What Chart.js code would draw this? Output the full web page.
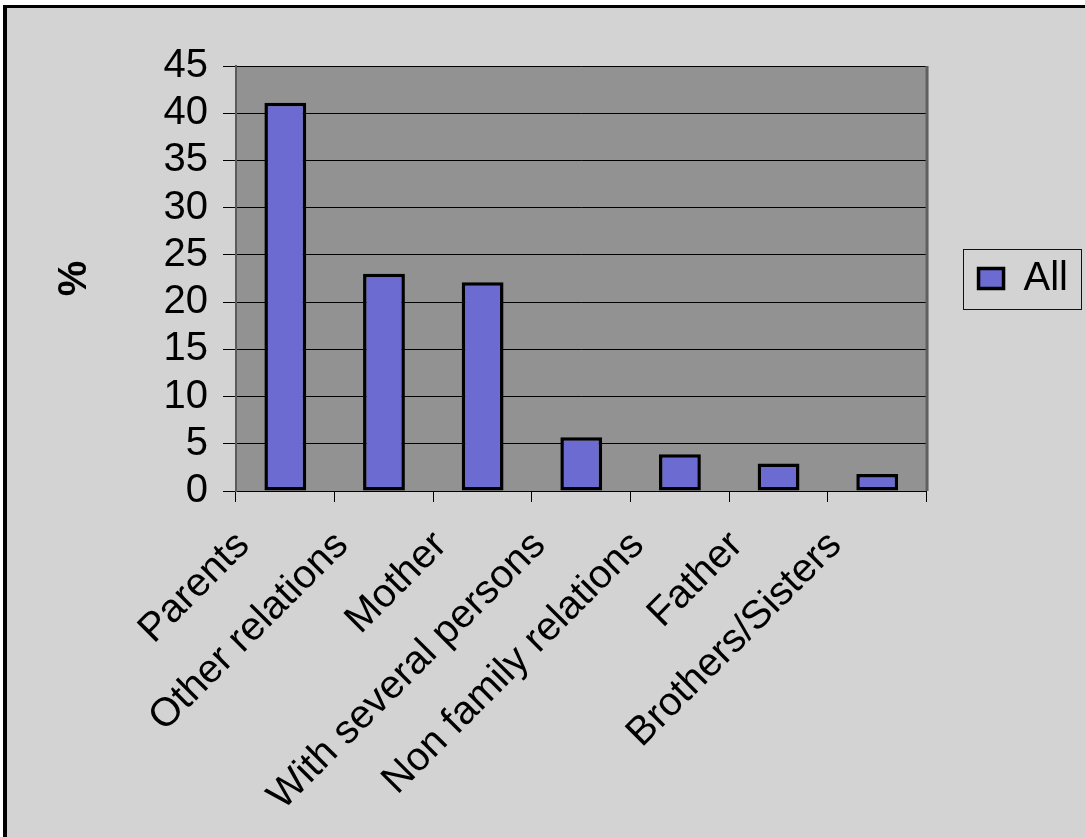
<!DOCTYPE html>
<html><head><meta charset="utf-8">
<script src="https://cdn.jsdelivr.net/npm/chart.js@4.4.0/dist/chart.umd.min.js"></script>
<style>
html,body{margin:0;padding:0;background:#fff;overflow:hidden;width:1085px;height:837px;}
#frame{position:absolute;left:3px;top:5px;width:1200px;height:900px;border-left:4px solid #000;border-top:3px solid #000;background:#d3d3d3;}
#c{position:absolute;left:0;top:0;}
</style></head><body>
<div id="frame"></div>
<canvas id="c" width="1085" height="837"></canvas>
<script>
const categories = ['Parents', 'Other relations', 'Mother', 'With several persons', 'Non family relations', 'Father', 'Brothers/Sisters'];
const seriesName = 'All';
const allValues = [41.1, 23.0, 22.1, 5.7, 3.9, 2.9, 1.8];
const yTickValues = [0, 5, 10, 15, 20, 25, 30, 35, 40, 45];
const yAxisTitle = '%';

Chart.defaults.font.family = '"Liberation Sans", Arial, sans-serif';
Chart.defaults.color = '#000';

const plotArea = {
  id: 'plotArea',
  beforeDraw(chart) {
    const {ctx, chartArea: a} = chart;
    ctx.save();
    ctx.fillStyle = '#929292';
    ctx.fillRect(a.left, a.top, a.right - a.left, a.bottom - a.top);
    ctx.restore();
  },
  afterDatasetsDraw(chart) {
    const {ctx, chartArea: a} = chart;
    ctx.save();
    ctx.strokeStyle = '#5f5f5f';
    ctx.lineWidth = 3;
    ctx.beginPath();
    ctx.moveTo(a.right + 0.5, a.top);
    ctx.lineTo(a.right + 0.5, a.bottom);
    ctx.stroke();
    ctx.restore();
  }
};

const legendFrame = {
  id: 'legendFrame',
  afterDraw(chart) {
    const lg = chart.legend;
    if (!lg || !lg.legendHitBoxes || !lg.legendHitBoxes.length) return;
    const h = lg.legendHitBoxes[0];
    const cy = h.top + h.height / 2;
    const ctx = chart.ctx;
    ctx.save();
    ctx.strokeStyle = '#111';
    ctx.lineWidth = 1;
    ctx.strokeRect(Math.round(h.left - 16) + 0.5, Math.round(cy - 30) + 0.5, Math.round(h.width + 29), 60);
    ctx.restore();
  }
};

new Chart(document.getElementById('c'), {
  type: 'bar',
  data: {
    labels: categories,
    datasets: [{
      label: seriesName,
      data: allValues,
      backgroundColor: '#6b6bd1',
      borderColor: '#000',
      borderWidth: 3.5,
      borderSkipped: false,
      barPercentage: 0.424,
      categoryPercentage: 1
    }]
  },
  options: {
    responsive: false,
    animation: false,
    devicePixelRatio: 1,
    layout: { padding: { left: 30, top: 66, right: 7, bottom: 0 } },
    plugins: {
      tooltip: { enabled: false },
      legend: {
        position: 'right',
        fullSize: false,
        labels: { font: { size: 40 }, color: '#000', boxWidth: 25, boxHeight: 20, padding: 52 }
      }
    },
    scales: {
      x: {
        afterFit(s) { s.height = 346; },
        ticks: { font: { size: 40 }, color: '#000', minRotation: 45, maxRotation: 45, autoSkip: false, padding: 20, labelOffset: -42 },
        grid: { drawOnChartArea: false, color: '#000', tickColor: '#000', tickLength: 11, offset: true },
        border: { color: '#000', width: 1 }
      },
      y: {
        min: yTickValues[0],
        max: yTickValues[yTickValues.length - 1],
        afterBuildTicks(s) { s.ticks = yTickValues.map(v => ({ value: v })); },
        afterFit(s) { s.width = 206; },
        ticks: { font: { size: 40 }, color: '#000', padding: 15, autoSkip: false },
        grid: { color: '#000', tickColor: '#000', tickLength: 13, lineWidth: 1 },
        border: { color: '#5a5a5a', width: 2 },
        title: { display: true, text: yAxisTitle, font: { size: 40, weight: 'bold' }, color: '#000', padding: { top: 20.5, bottom: 0 } }
      }
    }
  },
  plugins: [plotArea, legendFrame]
});
</script>
</body></html>
